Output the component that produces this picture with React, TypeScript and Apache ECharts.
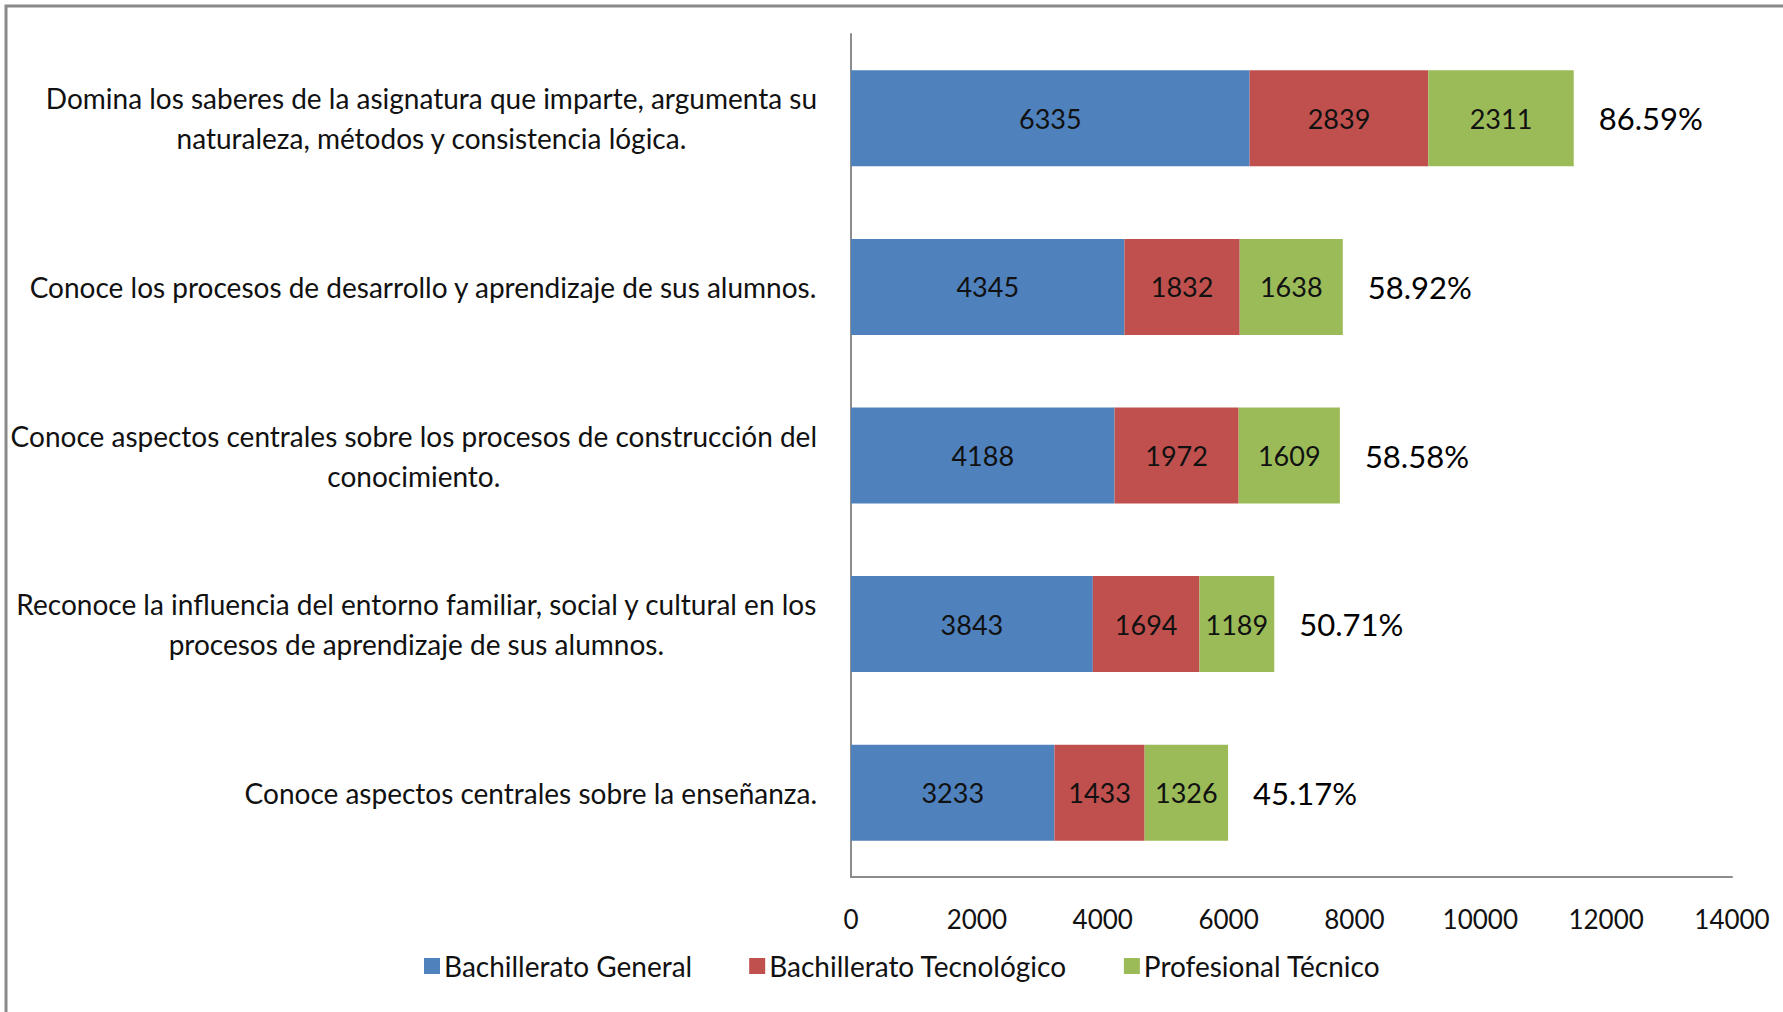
import React, { useEffect, useRef } from "react";
import * as echarts from "echarts";

const categories = [
  "Domina los saberes de la asignatura que imparte, argumenta su\nnaturaleza, métodos y consistencia lógica.",
  "Conoce los procesos de desarrollo y aprendizaje de sus alumnos.",
  "Conoce aspectos centrales sobre los procesos de construcción del\nconocimiento.",
  "Reconoce la influencia del entorno familiar, social y cultural en los\nprocesos de aprendizaje de sus alumnos.",
  "Conoce aspectos centrales sobre la enseñanza.",
];
const seriesNames = ["Bachillerato General", "Bachillerato Tecnológico", "Profesional Técnico"];
const bachilleratoGeneral = [6335, 4345, 4188, 3843, 3233];
const bachilleratoTecnologico = [2839, 1832, 1972, 1694, 1433];
const profesionalTecnico = [2311, 1638, 1609, 1189, 1326];
const percentages = ["86.59%", "58.92%", "58.58%", "50.71%", "45.17%"];
const xMin = 0;
const xMax = 14000;
const xInterval = 2000;

const colors = ["#4F81BD", "#C0504D", "#9BBB59"];
const FONT = "Lato, 'Liberation Sans', sans-serif";

export default function App() {
  const ref = useRef<HTMLDivElement>(null);
  useEffect(() => {
    if (!ref.current) return;
    const chart = echarts.init(ref.current, undefined, { renderer: "svg" });
    const values = [bachilleratoGeneral, bachilleratoTecnologico, profesionalTecnico];
    const totals = categories.map((_, i) => values.reduce((s, arr) => s + arr[i], 0));
    const barSeries = seriesNames.map((name, k) => ({
      name,
      type: "bar",
      stack: "total",
      barWidth: 96,
      data: values[k],
      itemStyle: { color: colors[k] },
      label: {
        show: true,
        position: "inside",
        color: "#111",
        fontFamily: FONT,
        fontSize: 27,
      },
      silent: true,
    }));
    chart.setOption({
      animation: false,
      textStyle: { fontFamily: FONT },
      graphic: [
        {
          type: "rect",
          shape: { x: 6, y: 6, width: 1900, height: 1100 },
          style: { fill: "none", stroke: "#8a8a8a", lineWidth: 3 },
          silent: true,
          z: -10,
        },
      ],
      grid: { left: 851, right: 51, top: 34, bottom: 135, containLabel: false },
      legend: {
        data: seriesNames,
        left: 419,
        top: 947,
        itemWidth: 16,
        itemHeight: 16,
        itemGap: 57,
        icon: "rect",
        textStyle: { fontFamily: FONT, fontSize: 28, color: "#111", padding: [0, 0, 0, -1] },
      },
      xAxis: {
        type: "value",
        min: xMin,
        max: xMax,
        interval: xInterval,
        axisLine: { show: true, lineStyle: { color: "#8c8c8c", width: 2 } },
        axisTick: { show: false },
        splitLine: { show: false },
        axisLabel: {
          fontFamily: FONT,
          fontSize: 26,
          color: "#111",
          margin: 29,
          formatter: (v: number) => String(v),
        },
      },
      yAxis: {
        type: "category",
        inverse: true,
        data: categories,
        axisLine: { show: true, lineStyle: { color: "#8c8c8c", width: 2 } },
        axisTick: { show: false },
        axisLabel: {
          margin: 34,
          formatter: (v: string) => v.split("\n").map((l) => `{c|${l}}`).join("\n"),
          rich: {
            c: { align: "center", fontFamily: FONT, fontSize: 28, color: "#111", lineHeight: 40 },
          },
        },
      },
      series: [
        ...barSeries,
        {
          name: "pct",
          type: "scatter",
          data: totals.map((t, i) => [t, i]),
          symbolSize: 2,
          itemStyle: { color: "rgba(0,0,0,0)", opacity: 1 },
          silent: true,
          label: {
            show: true,
            position: "right",
            distance: 24,
            formatter: (p: any) => percentages[p.dataIndex],
            fontFamily: FONT,
            fontSize: 31,
            color: "#000",
            opacity: 1,
          },
        },
      ],
    });
    return () => chart.dispose();
  }, []);
  return (
    <div
      ref={ref}
      style={{ position: "absolute", left: 0, top: 0, width: 1783, height: 1012, background: "#fff" }}
    />
  );
}
